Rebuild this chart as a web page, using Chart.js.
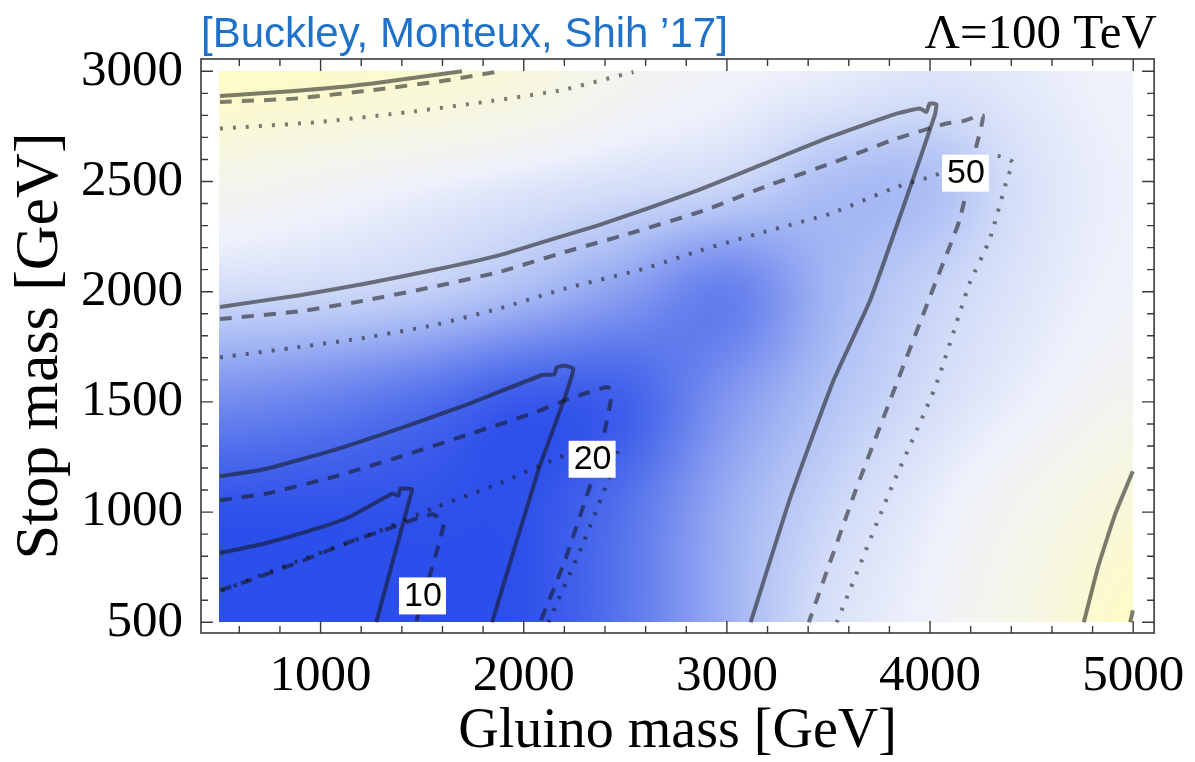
<!DOCTYPE html>
<html>
<head>
<meta charset="utf-8">
<script src="https://cdn.jsdelivr.net/npm/chart.js@4.4.0/dist/chart.umd.min.js"></script>
<style>
  html, body { margin: 0; padding: 0; background: #fff; }
  #wrap { width: 1195px; height: 762px; }
</style>
</head>
<body>
<div id="wrap"><canvas id="chart" width="1195" height="762"></canvas></div>
<script>
// Shaded background: level (0 = deep blue, 0.5 = white, 1 = yellow)
const gluinoGrid = [500, 1000, 1500, 2000, 2500, 3000, 3500, 4000, 4500, 5000]
const stopGrid = [500, 1000, 1500, 2000, 2500, 3000]
const shade = [
  [0.00, 0.00, 0.00, 0.01, 0.11, 0.27, 0.42, 0.52, 0.70, 0.97], // 500
  [0.01, 0.01, 0.01, 0.01, 0.10, 0.26, 0.38, 0.48, 0.62, 0.80], // 1000
  [0.17, 0.14, 0.09, 0.03, 0.05, 0.20, 0.32, 0.41, 0.50, 0.60], // 1500
  [0.40, 0.39, 0.36, 0.30, 0.22, 0.14, 0.28, 0.37, 0.45, 0.52], // 2000
  [0.63, 0.57, 0.51, 0.46, 0.42, 0.39, 0.31, 0.31, 0.43, 0.50], // 2500
  [0.98, 0.93, 0.87, 0.76, 0.60, 0.52, 0.48, 0.44, 0.47, 0.52], // 3000
]

// Contours [gluino, stop] in GeV
const solid10 = [[505, 814], [734, 860], [979, 925], [1142, 978], [1354, 1084], [1382, 1074], [1392, 1106], [1451, 1103], [1441, 1067], [1274, 500]]
const dashed10 = [[505, 645], [652, 691], [897, 774], [1142, 864], [1354, 932], [1550, 990], [1607, 949], [1469, 500]]
const solid20 = [[505, 1162], [734, 1197], [1060, 1280], [1387, 1379], [1713, 1485], [2089, 1621], [2151, 1625], [2162, 1657], [2203, 1664], [2244, 1651], [2203, 1522], [2072, 1190], [1844, 500]]
const dashed20 = [[505, 1054], [734, 1084], [1060, 1159], [1387, 1250], [1713, 1348], [2040, 1447], [2203, 1507], [2301, 1538], [2415, 1568], [2431, 1522], [2366, 1235], [2203, 781], [2081, 500]]
const dotted20 = [[514, 645], [897, 781], [1256, 902], [1550, 1016], [1877, 1129], [2203, 1258], [2464, 1303], [2415, 1144], [2285, 842], [2121, 500]]
const solid50 = [[505, 1931], [897, 1984], [1224, 2037], [1550, 2097], [1877, 2165], [2121, 2233], [2366, 2301], [2611, 2378], [2856, 2460], [3183, 2581], [3509, 2702], [3835, 2808], [3950, 2831], [3982, 2815], [3998, 2853], [4031, 2850], [4023, 2800], [3868, 2384], [3705, 1961], [3525, 1598], [3313, 1068], [3117, 500]]
const dashed50 = [[505, 1876], [897, 1911], [1224, 1961], [1550, 2021], [1877, 2089], [2203, 2180], [2513, 2262], [2889, 2369], [3183, 2475], [3509, 2581], [3835, 2695], [4080, 2763], [4162, 2774], [4260, 2800], [4227, 2656], [4145, 2324], [4031, 2052], [3835, 1583], [3634, 1099], [3403, 500]]
const dotted50 = [[505, 1702], [897, 1749], [1224, 1792], [1550, 1847], [1877, 1923], [2203, 2014], [2595, 2105], [2872, 2188], [3183, 2271], [3509, 2354], [3835, 2475], [3998, 2520], [4317, 2619], [4407, 2588], [4382, 2520], [4292, 2233], [4194, 2037], [4026, 1568], [3804, 1099], [3541, 500]]
const solidTop = [[505, 2888], [872, 2911], [1247, 2944], [1696, 3000]]
const dashedTop = [[505, 2861], [872, 2876], [1247, 2914], [1622, 2959], [1880, 3000]]
const dottedTop = [[505, 2740], [995, 2770], [1434, 2815], [1808, 2861], [2184, 2914], [2540, 2997]]
const solidCorner = [[4757, 500], [4827, 751], [4912, 993], [4998, 1185]]
const dashedCorner = [[4985, 500], [5000, 560]]

// Contour labels
const contourLabels = ["10", "20", "50"]
const labelGluino = [1504, 2339, 4177]
const labelStop = [622, 1242, 2540]

// Axes
const gluinoTicks = [1000, 2000, 3000, 4000, 5000]
const stopTicks = [500, 1000, 1500, 2000, 2500, 3000]

const creditText = "[Buckley, Monteux, Shih \u201917]"
const lambdaText = "\u039B=100 TeV"

// colour ramp blue -> white -> yellow
const rampStops = [0, 0.1, 0.2, 0.3, 0.4, 0.5, 0.6, 0.75, 0.9, 1]
const rampColors = [
  [44, 78, 234], [85, 115, 236], [128, 150, 240], [170, 188, 244], [210, 220, 248],
  [238, 241, 251], [243, 244, 238], [247, 247, 222], [252, 250, 205], [254, 252, 195],
]

const lineColor = "rgba(20, 20, 20, 0.55)"

function rampColor(v) {
  v = Math.max(0, Math.min(1, v))
  let i = 0
  while (i < rampStops.length - 2 && v > rampStops[i + 1]) i++
  const t = (v - rampStops[i]) / (rampStops[i + 1] - rampStops[i])
  const a = rampColors[i], b = rampColors[i + 1]
  return [a[0] + (b[0] - a[0]) * t, a[1] + (b[1] - a[1]) * t, a[2] + (b[2] - a[2]) * t]
}

function cellIndex(grid, v) {
  let i = 0
  while (i < grid.length - 2 && v > grid[i + 1]) i++
  const t = Math.max(0, Math.min(1, (v - grid[i]) / (grid[i + 1] - grid[i])))
  return [i, t]
}

// Catmull-Rom weights, so the shading has no creases along grid lines
function crWeights(t) {
  const t2 = t * t, t3 = t2 * t
  return [
    0.5 * (-t3 + 2 * t2 - t),
    0.5 * (3 * t3 - 5 * t2 + 2),
    0.5 * (-3 * t3 + 4 * t2 + t),
    0.5 * (t3 - t2),
  ]
}

function sampleShade(g, s) {
  const [i, tx] = cellIndex(gluinoGrid, g)
  const [j, ty] = cellIndex(stopGrid, s)
  const wx = crWeights(tx), wy = crWeights(ty)
  let v = 0
  for (let b = 0; b < 4; b++) {
    const row = shade[Math.max(0, Math.min(stopGrid.length - 1, j - 1 + b))]
    let r = 0
    for (let a = 0; a < 4; a++) r += wx[a] * row[Math.max(0, Math.min(gluinoGrid.length - 1, i - 1 + a))]
    v += wy[b] * r
  }
  return v
}

const heatPlugin = {
  id: "heat",
  beforeDatasetsDraw(chart) {
    const { ctx, scales: { x, y } } = chart
    const left = Math.round(x.getPixelForValue(gluinoGrid[0]))
    const right = Math.round(x.getPixelForValue(gluinoGrid[gluinoGrid.length - 1]))
    const top = Math.round(y.getPixelForValue(stopGrid[stopGrid.length - 1]))
    const bottom = Math.round(y.getPixelForValue(stopGrid[0]))
    const w = right - left
    const h = bottom - top
    const img = ctx.createImageData(w, h)
    for (let j = 0; j < h; j++) {
      const sv = y.getValueForPixel(top + j + 0.5)
      for (let i = 0; i < w; i++) {
        const c = rampColor(sampleShade(x.getValueForPixel(left + i + 0.5), sv))
        const k = (j * w + i) * 4
        img.data[k] = c[0]
        img.data[k + 1] = c[1]
        img.data[k + 2] = c[2]
        img.data[k + 3] = 255
      }
    }
    ctx.putImageData(img, left, top)
  },
}

const labelPlugin = {
  id: "contourLabels",
  afterDatasetsDraw(chart) {
    const { ctx, scales: { x, y } } = chart
    ctx.save()
    ctx.font = "34px 'Liberation Sans', Arial, sans-serif"
    ctx.textAlign = "center"
    ctx.textBaseline = "middle"
    contourLabels.forEach((text, i) => {
      const px = x.getPixelForValue(labelGluino[i])
      const py = y.getPixelForValue(labelStop[i])
      ctx.fillStyle = "#fff"
      ctx.fillRect(px - 24, py - 18, 47, 37)
      ctx.fillStyle = "#000"
      ctx.fillText(text, px, py + 1)
    })
    ctx.restore()
  },
}

const framePlugin = {
  id: "frame",
  afterDraw(chart) {
    const { ctx, chartArea: a, scales: { x, y } } = chart
    ctx.save()
    ctx.strokeStyle = "#3a3a3a"
    ctx.lineWidth = 1.6
    ctx.strokeRect(a.left, a.top, a.right - a.left, a.bottom - a.top)
    ctx.lineWidth = 1.4
    ctx.beginPath()
    for (let v = 600; v <= 5000; v += 200) {
      const len = gluinoTicks.includes(v) ? 12 : 7
      const px = x.getPixelForValue(v)
      ctx.moveTo(px, a.bottom); ctx.lineTo(px, a.bottom - len)
      ctx.moveTo(px, a.top); ctx.lineTo(px, a.top + len)
    }
    for (let v = 500; v <= 3000; v += 100) {
      const len = stopTicks.includes(v) ? 12 : 7
      const py = y.getPixelForValue(v)
      ctx.moveTo(a.left, py); ctx.lineTo(a.left + len, py)
      ctx.moveTo(a.right, py); ctx.lineTo(a.right - len, py)
    }
    ctx.stroke()

    ctx.fillStyle = "#1f72c8"
    ctx.font = "42px 'Liberation Sans', Arial, sans-serif"
    ctx.textAlign = "left"
    ctx.textBaseline = "alphabetic"
    ctx.fillText(creditText, 201, 47)
    ctx.fillStyle = "#000"
    ctx.font = "49px 'Liberation Serif', 'Times New Roman', serif"
    ctx.textAlign = "right"
    ctx.fillText(lambdaText, 1157, 48)
    ctx.restore()
  },
}

function contour(points, dash) {
  return {
    data: points.map(([gx, sy]) => ({ x: gx, y: sy })),
    borderColor: lineColor,
    borderWidth: 4,
    borderDash: dash,
    borderCapStyle: "butt",
    borderJoinStyle: "miter",
    pointRadius: 0,
    tension: 0.15,
    fill: false,
  }
}

const solid = []
const dashed = [12, 10]
const dotted = [3, 10]

const serif = "'Liberation Serif', 'Times New Roman', serif"

new Chart(document.getElementById("chart"), {
  type: "line",
  data: {
    datasets: [
      contour(solid10, solid), contour(dashed10, dashed),
      contour(solid20, solid), contour(dashed20, dashed), contour(dotted20, dotted),
      contour(solid50, solid), contour(dashed50, dashed), contour(dotted50, dotted),
      contour(solidTop, solid), contour(dashedTop, dashed), contour(dottedTop, dotted),
      contour(solidCorner, solid), contour(dashedCorner, dashed),
    ],
  },
  options: {
    responsive: false,
    animation: false,
    devicePixelRatio: 1,
    layout: { padding: { left: 0, top: 59, right: 36, bottom: 0 } },
    plugins: { legend: { display: false }, tooltip: { enabled: false } },
    scales: {
      x: {
        type: "linear",
        min: 411.4,
        max: 5102.8,
        grid: { display: false },
        border: { display: false },
        afterBuildTicks: (s) => { s.ticks = gluinoTicks.map((v) => ({ value: v })) },
        afterFit: (s) => { s.height = 129 },
        ticks: {
          color: "#000",
          padding: 10,
          maxRotation: 0,
          autoSkip: false,
          font: { family: serif, size: 51, lineHeight: 1 },
          callback: (v) => String(v),
        },
        title: {
          display: true,
          text: "Gluino mass [GeV]",
          color: "#000",
          padding: { top: 0, bottom: 2 },
          font: { family: serif, size: 56, lineHeight: 1 },
        },
      },
      y: {
        type: "linear",
        min: 451.5,
        max: 3055.8,
        grid: { display: false },
        border: { display: false },
        afterBuildTicks: (s) => { s.ticks = stopTicks.map((v) => ({ value: v })) },
        afterFit: (s) => { s.width = 201 },
        ticks: {
          color: "#000",
          padding: 10,
          autoSkip: false,
          font: { family: serif, size: 51, lineHeight: 1 },
          callback: (v) => String(v),
        },
        title: {
          display: true,
          text: "Stop mass [GeV]",
          color: "#000",
          padding: { top: 10, bottom: 0 },
          font: { family: serif, size: 62, lineHeight: 1 },
        },
      },
    },
  },
  plugins: [heatPlugin, labelPlugin, framePlugin],
})
</script>
</body>
</html>
